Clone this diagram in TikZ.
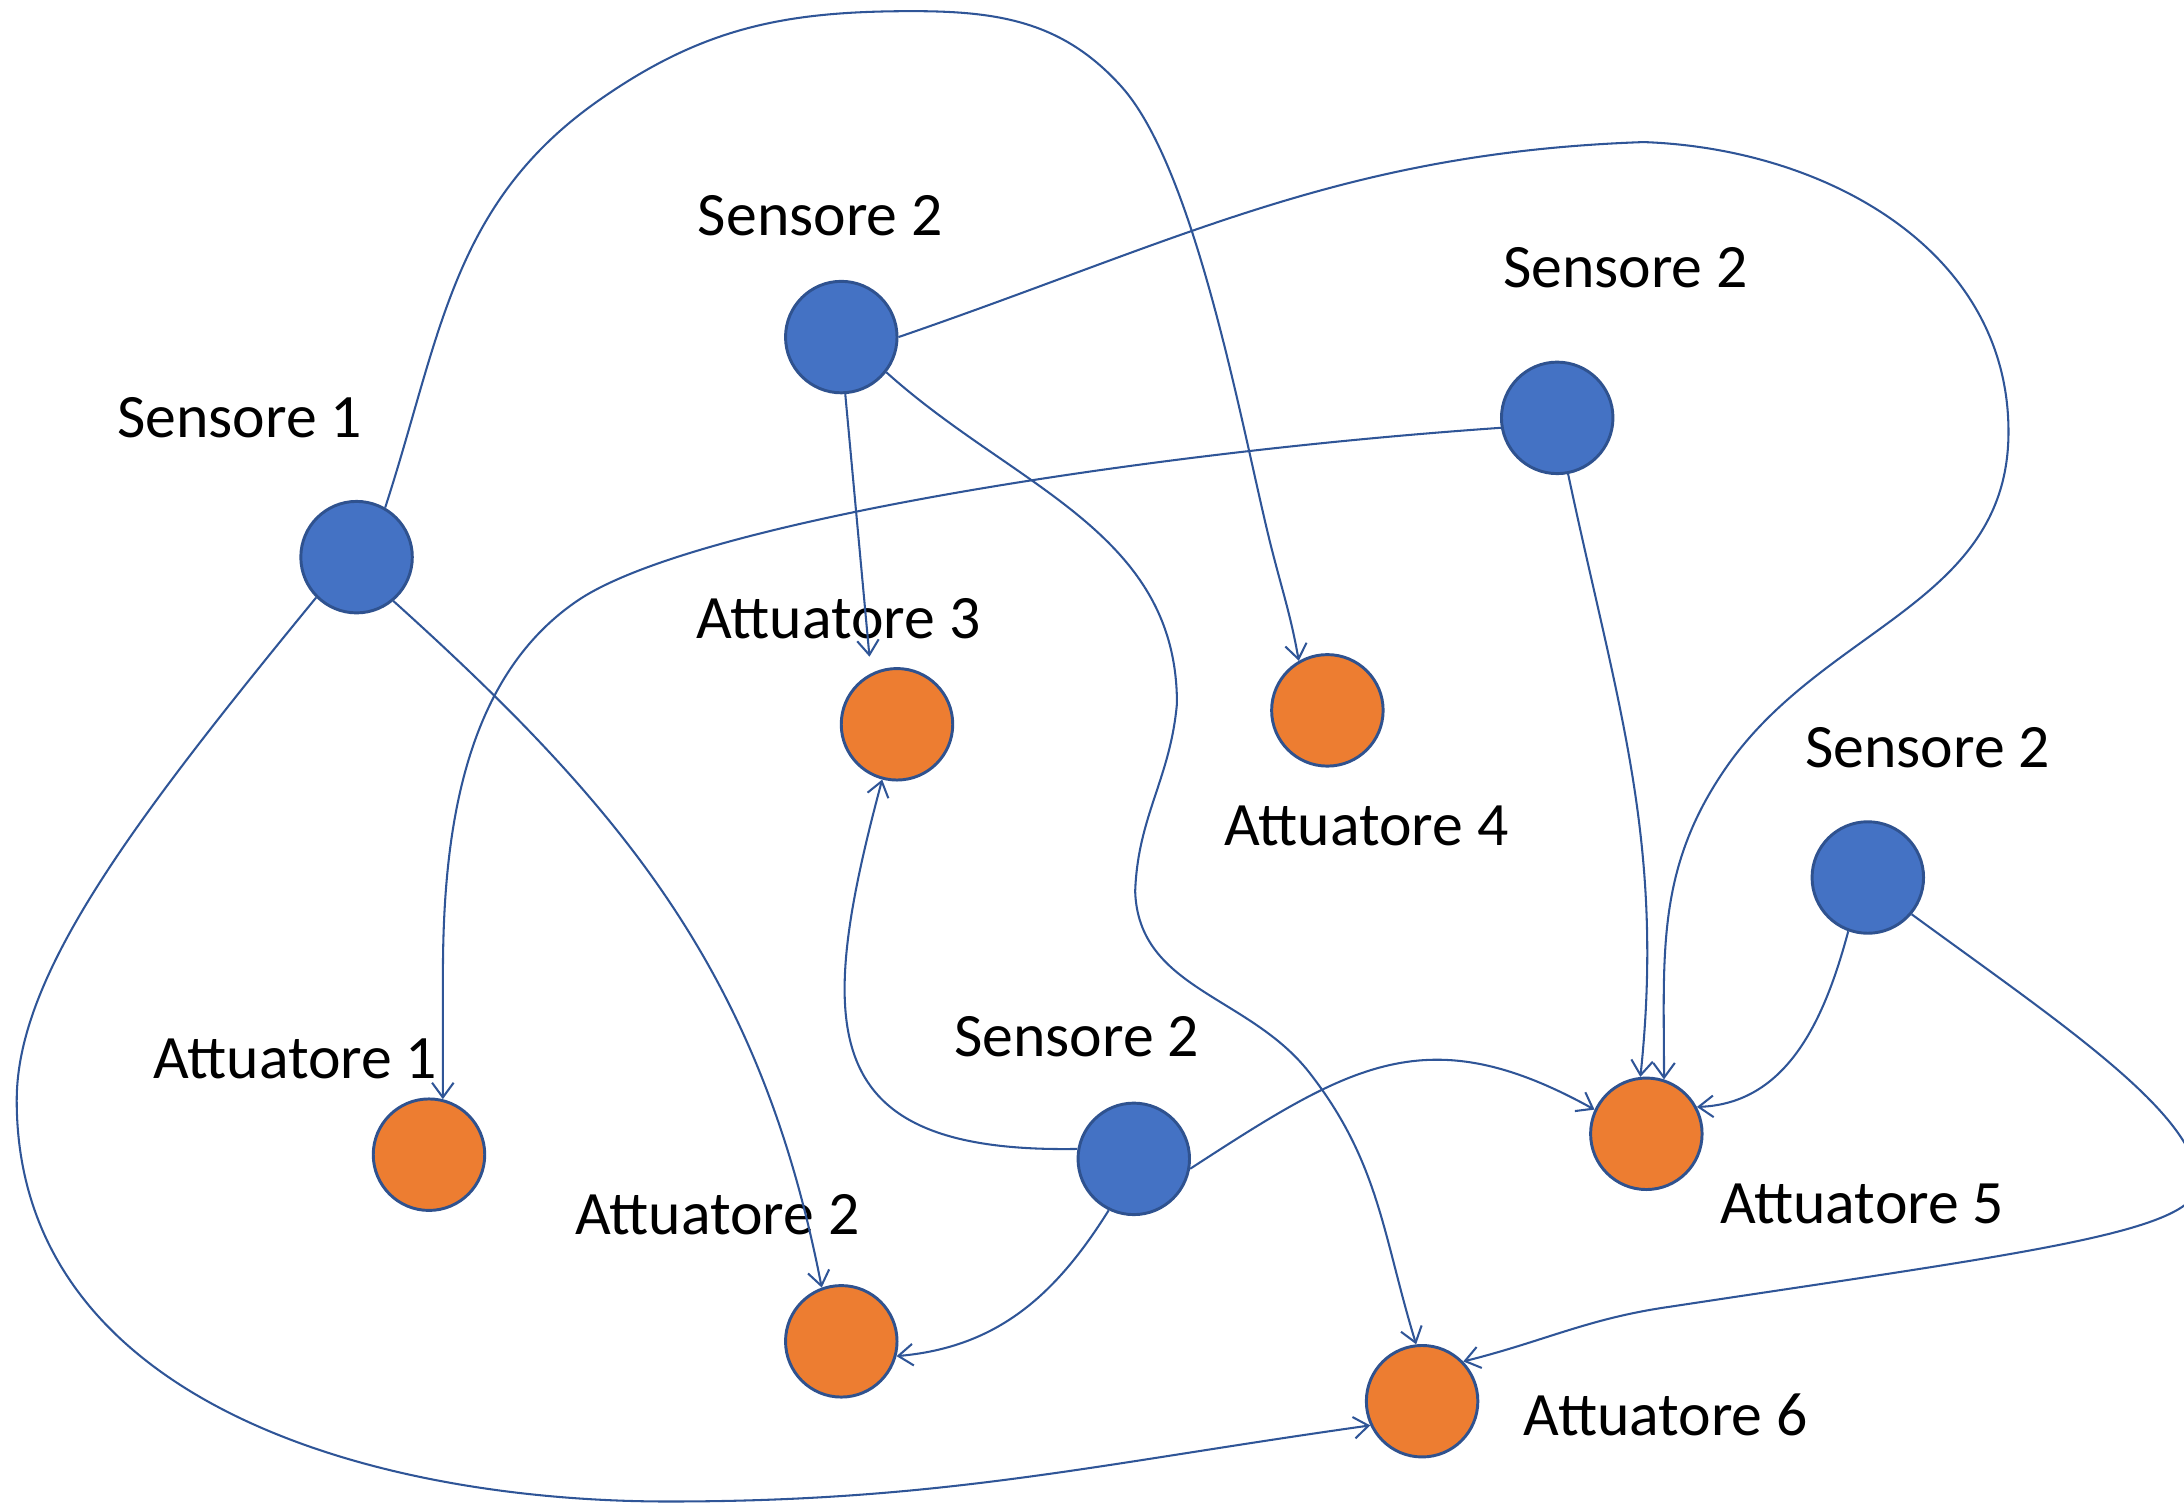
\documentclass[tikz,border=0pt]{standalone}
\usepackage{fontspec}
\setmainfont{Carlito}
\usetikzlibrary{arrows.meta,positioning}
\definecolor{sensblue}{HTML}{4472C4}
\definecolor{attorange}{HTML}{ED7D31}
\definecolor{rimblue}{HTML}{2F528F}
\definecolor{wireblue}{HTML}{2F5597}
\tikzset{sens/.style={circle,fill=sensblue,draw=rimblue,line width=0.6pt,minimum size=0.8cm,inner sep=0pt},
         att/.style={circle,fill=attorange,draw=rimblue,line width=0.6pt,minimum size=0.8cm,inner sep=0pt},
         lab/.style={inner sep=0pt,font=\fontsize{12.6}{15}\selectfont},
         wire/.style={-{Straight Barb[length=3pt,width=4.4pt]},draw=wireblue,line width=0.42pt}
}
\begin{document}
\begin{tikzpicture}[x=0.01cm,y=0.01cm]
       \useasboundingbox (0,0) rectangle (1568,-1081);
       \node[sens] (s1) at (256,-400)  {};
       \node[sens] (s2) at (604,-242)  {};
       \node[sens] (s3) at (1118,-300) {};
       \node[sens] (s4) at (1341,-630) {};
       \node[sens] (s5) at (814,-832)  {};
       \node[att] (a1) at (308,-829)  {};
       \node[att] (a2) at (604,-963)  {};
       \node[att] (a3) at (644,-520)  {};
       \node[att] (a4) at (953,-510)  {};
       \node[att] (a5) at (1182,-814) {};
       \node[att] (a6) at (1021,-1006) {};
       \node[lab] (ls1) at (172,-300)  {Sensore 1};
       \node[lab] (ls2) at (589,-155)  {Sensore 2};
       \node[lab] (ls3) at (1167,-192) {Sensore 2};
       \node[lab] (ls4) at (1384,-537) {Sensore 2};
       \node[lab] (ls5) at (773,-744)  {Sensore 2};
       \node[lab] (la1) at (212,-760)  {Attuatore 1};
       \node[lab] (la2) at (515,-872)  {Attuatore 2};
       \node[lab] (la3) at (602,-444)  {Attuatore 3};
       \node[lab] (la4) at (981,-593)  {Attuatore 4};
       \node[lab] (la5) at (1337,-864) {Attuatore 5};
       \node[lab] (la6) at (1196,-1016) {Attuatore 6};
       \draw[wire] (s1.60) to[out=72,in=215] (430,-72) to[out=35,in=180] (655,-8) to[out=0,in=132] (805,-62) to[out=-48,in=104,looseness=0.6] (912,-390) to[out=-76,in=100] (a4.120);
       \draw[wire] (s1.225) .. controls (95,-590) and (12,-700) .. (12,-790) to[out=-90,in=180] (480,-1078) to[out=0,in=188] (a6.205);
       \draw[wire] (s1.-50) to[out=-42,in=101] (a2.110);
       \draw[wire] (s2.east) to[out=19,in=182] (1180,-102) to[out=-2,in=90] (1442,-310) to[out=-90,in=55] (1240,-550) to[out=-125,in=90] (a5.72);
       \draw[wire,shorten >=0.12cm] (s2.-86) -- (a3.117);
       \draw[wire] (s2.-38) to[out=-42,in=90] (845,-505) to[out=-95,in=88] (815,-640) to[out=-88,in=128] (940,-770) to[out=-52,in=107] (a6.96);
       \draw[wire] (s3.190) .. controls (820,-325) and (498,-375) .. (415,-431) .. controls (332,-487) and (318,-600) .. (318,-700) -- (a1.76);
       \draw[wire] (s3.-79) to[out=-78,in=84] (a5.96);
       \draw[wire] (s4.-110) to[out=-105,in=2] (a5.28);
       \draw[wire] (s4.-40) .. controls (1480,-735) and (1578,-800) .. (1578,-850) .. controls (1578,-885) and (1450,-900) .. (1200,-938) to[out=188,in=14] (a6.44);
       \draw[wire] (s5.170) to[out=181,in=-105,looseness=1.6] (a3.255);
       \draw[wire] (s5.-10) to[out=33,in=151,looseness=1.2] (a5.155);
       \draw[wire] (s5.-116) to[out=-122,in=5] (a2.-15);
    \end{tikzpicture}
\end{document}
